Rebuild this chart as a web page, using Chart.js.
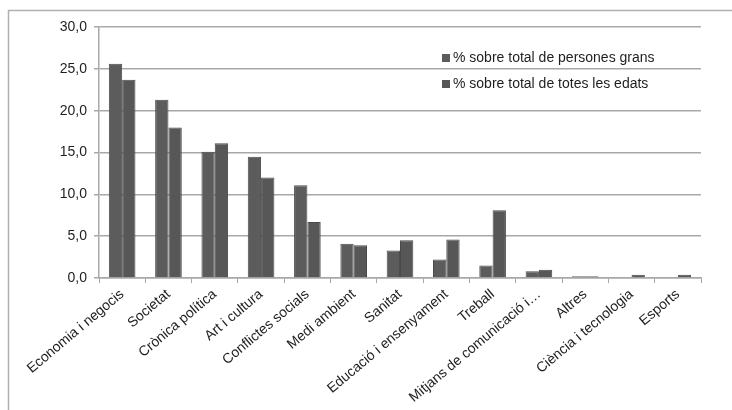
<!DOCTYPE html>
<html>
<head>
<meta charset="utf-8">
<script src="https://cdn.jsdelivr.net/npm/chart.js@4/dist/chart.umd.min.js"></script>
<style>
  html, body { margin: 0; padding: 0; background: #ffffff; }
  #wrap { position: relative; width: 732px; height: 410px; }
</style>
</head>
<body>
<div id="wrap"><canvas id="c" width="732" height="410"></canvas></div>
<script>
// Temes de les notícies
const categories = [
  'Economia i negocis', 'Societat', 'Crònica política', 'Art i cultura',
  'Conflictes socials', 'Medi ambient', 'Sanitat', 'Educació i ensenyament',
  'Treball', 'Mitjans de comunicació i…', 'Altres', 'Ciència i tecnologia', 'Esports'
];
const seriesNames = ['% sobre total de persones grans', '% sobre total de totes les edats'];
const personesGrans = [25.6, 21.3, 15.1, 14.5, 11.1, 4.1, 3.3, 2.2, 1.5, 0.8, 0.2, 0.0, 0.0];
const totesEdats    = [23.7, 18.0, 16.1, 12.0, 6.7, 3.9, 4.5, 4.6, 8.1, 1.0, 0.2, 0.4, 0.4];
const yTicks = [0, 5, 10, 15, 20, 25, 30];

const FONT = 'Liberation Sans, Arial, sans-serif';
const TEXT = '#1e1e1e';
const GRID = '#a8a8a8';

// Outer frame of the chart
const framePlugin = {
  id: 'frame',
  beforeDraw(chart) {
    const ctx = chart.ctx;
    ctx.save();
    ctx.strokeStyle = '#b0b0b0';
    ctx.lineWidth = 1.5;
    ctx.beginPath();
    ctx.moveTo(8.5, 412);
    ctx.lineTo(8.5, 10.5);
    ctx.lineTo(734, 10.5);
    ctx.stroke();
    ctx.restore();
  }
};

// Legend drawn inside the plot area, upper right
const innerLegend = {
  id: 'innerLegend',
  afterDraw(chart) {
    const ctx = chart.ctx;
    const x = 442, ys = [58, 84];
    ctx.save();
    ctx.font = '14px ' + FONT;
    ctx.textBaseline = 'middle';
    chart.data.datasets.forEach((ds, i) => {
      ctx.fillStyle = ds.backgroundColor;
      ctx.fillRect(x, ys[i] - 4, 8, 8);
      ctx.fillStyle = TEXT;
      ctx.fillText(ds.label, x + 11, ys[i]);
    });
    ctx.restore();
  }
};

new Chart(document.getElementById('c'), {
  type: 'bar',
  data: {
    labels: categories,
    datasets: [
      { label: seriesNames[0], data: personesGrans, backgroundColor: '#5c5c5c', borderColor: '#4c4c4c', borderWidth: 1 },
      { label: seriesNames[1], data: totesEdats, backgroundColor: '#575757', borderColor: '#4a4a4a', borderWidth: 1 }
    ]
  },
  options: {
    responsive: false,
    animation: false,
    devicePixelRatio: 1,
    layout: { padding: { left: 0, right: 31, top: 27, bottom: 0 } },
    plugins: {
      legend: { display: false },
      tooltip: { enabled: false }
    },
    datasets: { bar: { categoryPercentage: 0.575, barPercentage: 1.0 } },
    scales: {
      x: {
        grid: { display: true, drawOnChartArea: false, drawTicks: true, tickLength: 5, color: GRID, offset: true },
        border: { display: true, color: GRID, width: 1.5 },
        ticks: {
          color: TEXT,
          font: { family: FONT, size: 14 },
          minRotation: 40,
          maxRotation: 40,
          autoSkip: false,
          padding: 3
        },
        afterFit(scale) { scale.height = 132; }
      },
      y: {
        min: 0,
        max: 30,
        afterBuildTicks(scale) { scale.ticks = yTicks.map(v => ({ value: v })); },
        grid: { color: GRID, lineWidth: 1.5, drawTicks: true, tickLength: 5 },
        border: { display: true, color: GRID, width: 1.5 },
        ticks: {
          color: TEXT,
          font: { family: FONT, size: 14 },
          padding: 7,
          callback: v => v.toFixed(1).replace('.', ',')
        },
        afterFit(scale) { scale.width = 99; }
      }
    }
  },
  plugins: [framePlugin, innerLegend]
});
</script>
</body>
</html>
